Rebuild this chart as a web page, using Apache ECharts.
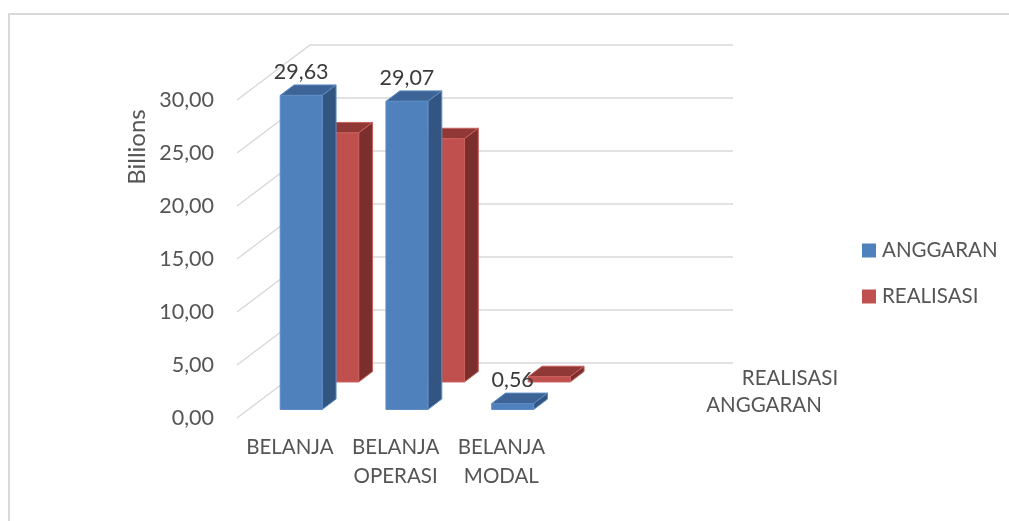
<!DOCTYPE html>
<html>
<head>
<meta charset="utf-8">
<title>Anggaran dan Realisasi Belanja</title>
<script src="https://cdn.jsdelivr.net/npm/echarts@6/dist/echarts.min.js"></script>
<style>
  html, body { margin: 0; padding: 0; background: #fff; }
  #chart { width: 1009px; height: 521px; }
</style>
</head>
<body>
<div id="chart"></div>
<script>
const categories = ['BELANJA', 'BELANJA\nOPERASI', 'BELANJA\nMODAL', '']
const anggaran = [29.63, 29.07, 0.56, null]
const realisasi = [23.5, 22.95, 0.5, null]
const gridValues = [0, 5, 10, 15, 20, 25, 30]

const FONT = 'Lato'
const TEXT_COLOR = '#555555'
const WALL_DX = 73   // geser kedalaman sumbu 3D
const WALL_DY = -55
const BAR_WIDTH = 0.397  // relatif terhadap lebar kategori
const BAR_DEPTH = 0.19

function fmt(v) {
  return v.toFixed(2).replace('.', ',')
}

// titik 3D: kategori + offset x, nilai, kedalaman (0-1)
function project(api, cat, value, xOff, depth) {
  const p = api.coord([cat, value])
  const band = api.size([1, 0])[0]
  return [p[0] + xOff * band + depth * WALL_DX, p[1] + depth * WALL_DY]
}

function poly(points, fill, stroke) {
  return {
    type: 'polygon',
    shape: { points },
    style: { fill, stroke, lineWidth: 1 },
  }
}

function barRenderer(depthCenter, colors, showLabel) {
  return (params, api) => {
    const cat = api.value(0)
    const val = api.value(1)
    if (val == null || isNaN(val)) return null
    const l = -BAR_WIDTH / 2
    const r = BAR_WIDTH / 2
    const d0 = depthCenter - BAR_DEPTH / 2
    const d1 = depthCenter + BAR_DEPTH / 2
    const children = [
      poly([project(api, cat, val, l, d0), project(api, cat, val, r, d0), project(api, cat, val, r, d1), project(api, cat, val, l, d1)], colors.top, colors.edge),
      poly([project(api, cat, 0, r, d0), project(api, cat, val, r, d0), project(api, cat, val, r, d1), project(api, cat, 0, r, d1)], colors.side, colors.edge),
      poly([project(api, cat, 0, l, d0), project(api, cat, 0, r, d0), project(api, cat, val, r, d0), project(api, cat, val, l, d0)], colors.front, colors.edge),
    ]
    if (showLabel) {
      const top = project(api, cat, val, 0, d0)
      children.push({
        type: 'text',
        z2: 10,
        style: {
          x: top[0],
          y: top[1] - 23.5,
          text: fmt(val),
          fill: '#3a3a3a',
          font: '21.5px ' + FONT,
          align: 'center',
          verticalAlign: 'middle',
        },
      })
    }
    return { type: 'group', children }
  }
}

function wallRenderer(params, api) {
  const val = api.value(1)
  const front = api.coord([0, val])
  const band = api.size([1, 0])[0]
  const x0 = front[0] - band / 2
  const x1 = params.coordSys.x + params.coordSys.width + WALL_DX
  const y = front[1]
  return {
    type: 'polyline',
    shape: { points: [[x0, y], [x0 + WALL_DX, y + WALL_DY], [x1, y + WALL_DY]] },
    style: { fill: 'none', stroke: '#d9d9d9', lineWidth: 1.5 },
  }
}

const toRows = arr => arr.map((v, i) => [i, v])

const chart = echarts.init(document.getElementById('chart'), null, { renderer: 'canvas' })

chart.setOption({
  animation: false,
  backgroundColor: '#fff',
  grid: { left: 237, right: 349, top: 100, bottom: 103, containLabel: false },
  legend: {
    data: ['ANGGARAN', 'REALISASI'],
    orient: 'vertical',
    left: 857,
    top: 235,
    itemWidth: 14,
    itemHeight: 14,
    itemGap: 25,
    icon: 'rect',
    selectedMode: false,
    textStyle: { color: TEXT_COLOR, fontFamily: FONT, fontSize: 20.5, padding: [0, 0, 0, 1] },
  },
  xAxis: {
    type: 'category',
    data: categories,
    axisLine: { show: false },
    axisTick: { show: false },
    splitLine: { show: false },
    axisLabel: {
      interval: 0,
      margin: 15,
      color: TEXT_COLOR,
      fontFamily: FONT,
      fontSize: 20.5,
      lineHeight: 29,
      verticalAlign: 'top',
    },
  },
  yAxis: {
    type: 'value',
    min: 0,
    max: 30,
    interval: 5,
    axisLine: { show: false },
    axisTick: { show: false },
    splitLine: { show: false },
    axisLabel: {
      margin: 23,
      color: TEXT_COLOR,
      fontFamily: FONT,
      fontSize: 21.5,
      padding: [3, 0, 0, 0],
      formatter: v => fmt(v),
    },
  },
  graphic: [
    {
      type: 'polyline',
      shape: { points: [[9, 521], [9, 14], [1009, 14]] },
      style: { fill: 'none', stroke: '#d9d9d9', lineWidth: 2 },
    },
    {
      type: 'text',
      x: 137,
      y: 147,
      rotation: Math.PI / 2,
      style: { text: 'Billions', fill: TEXT_COLOR, font: '24px ' + FONT, align: 'center', verticalAlign: 'middle' },
    },
    {
      type: 'text',
      x: 790,
      y: 378,
      style: { text: 'REALISASI', fill: TEXT_COLOR, font: '20.5px ' + FONT, align: 'center', verticalAlign: 'middle' },
    },
    {
      type: 'text',
      x: 764,
      y: 405,
      style: { text: 'ANGGARAN', fill: TEXT_COLOR, font: '20.5px ' + FONT, align: 'center', verticalAlign: 'middle' },
    },
  ],
  series: [
    {
      name: 'dinding',
      type: 'custom',
      coordinateSystem: 'cartesian2d',
      renderItem: wallRenderer,
      encode: { x: 0, y: 1 },
      data: gridValues.map(v => [0, v]),
      silent: true,
      z: 1,
    },
    {
      name: 'REALISASI',
      type: 'custom',
      coordinateSystem: 'cartesian2d',
      renderItem: barRenderer(0.75, { front: '#c0504d', top: '#8f3835', side: '#7b2f2d', edge: '#c9605d' }, false),
      encode: { x: 0, y: 1 },
      itemStyle: { color: '#c0504d' },
      data: toRows(realisasi),
      z: 2,
    },
    {
      name: 'ANGGARAN',
      type: 'custom',
      coordinateSystem: 'cartesian2d',
      renderItem: barRenderer(0.25, { front: '#4f81bd', top: '#3c6496', side: '#325581', edge: '#5f8cc4' }, true),
      encode: { x: 0, y: 1 },
      itemStyle: { color: '#4f81bd' },
      data: toRows(anggaran),
      z: 3,
    },
  ],
})

window.addEventListener('resize', () => chart.resize())
</script>
</body>
</html>
